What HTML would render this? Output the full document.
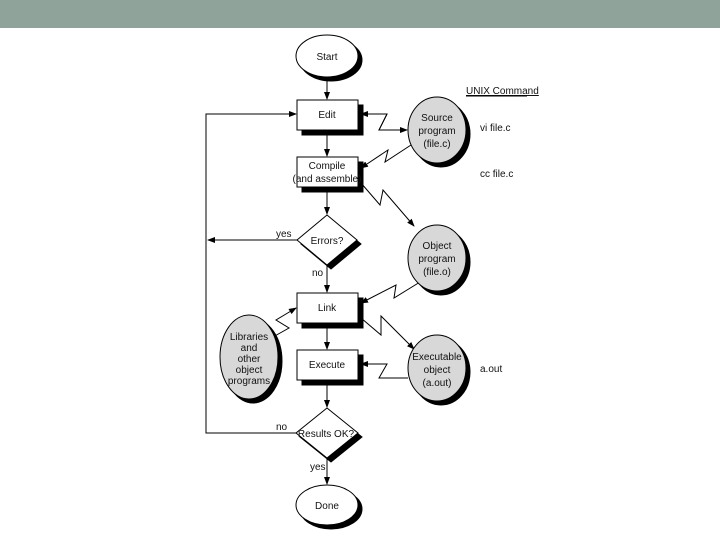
<!DOCTYPE html><html><head><style>body{margin:0;width:720px;height:540px;background:#fff;overflow:hidden}svg text{font-family:"Liberation Sans",sans-serif;font-size:10px;fill:#111}</style></head><body>
<svg width="720" height="540" viewBox="0 0 720 540">
<defs><marker id="a" markerWidth="8" markerHeight="8" refX="7" refY="4" orient="auto" markerUnits="userSpaceOnUse"><path d="M0,1 L8,4 L0,7 z" fill="#000"/></marker></defs>
<rect x="0" y="0" width="720" height="28" fill="#8fa39a"/>
<g stroke="#000" stroke-width="1" fill="none">
<line x1="327" y1="77" x2="327" y2="99" marker-end="url(#a)"/>
<line x1="327" y1="130" x2="327" y2="156" marker-end="url(#a)"/>
<line x1="327" y1="187" x2="327" y2="214" marker-end="url(#a)"/>
<line x1="327" y1="265" x2="327" y2="292" marker-end="url(#a)"/>
<line x1="327" y1="323" x2="327" y2="349" marker-end="url(#a)"/>
<line x1="327" y1="380" x2="327" y2="407" marker-end="url(#a)"/>
<line x1="327" y1="458" x2="327" y2="484" marker-end="url(#a)"/>
<polyline points="296,433 206,433 206,114 296,114" marker-end="url(#a)"/>
<line x1="297" y1="240" x2="208" y2="240" marker-end="url(#a)"/>
<polyline points="407,130 379,130 387,114 361,114" marker-end="url(#a)"/>
<polyline points="387,114 379,130 407,130" marker-end="url(#a)"/>
<polyline points="411,145 385,162 388,150 361,168" marker-end="url(#a)"/>
<polyline points="361,183 380,205 383,190 414,226" marker-end="url(#a)"/>
<polyline points="420,282 394,298 396,285 361,303" marker-end="url(#a)"/>
<polyline points="361,318 381,335 381,316 414,349" marker-end="url(#a)"/>
<polyline points="408,378 379,378 387,364 361,364" marker-end="url(#a)"/>
<polyline points="273,337 289,328 276,320 296,308" marker-end="url(#a)"/>
</g>
<g stroke="#000">
<ellipse cx="331" cy="60" rx="31" ry="21" fill="#000"/><ellipse cx="327" cy="56" rx="31" ry="21" fill="#fff"/>
<ellipse cx="331" cy="509" rx="31" ry="20" fill="#000"/><ellipse cx="327" cy="505" rx="31" ry="20" fill="#fff"/>
<rect x="302" y="105" width="61" height="30" fill="#000"/><rect x="297" y="100" width="61" height="30" fill="#fff"/>
<rect x="302" y="162" width="61" height="30" fill="#000"/><rect x="297" y="157" width="61" height="30" fill="#fff"/>
<rect x="302" y="298" width="61" height="30" fill="#000"/><rect x="297" y="293" width="61" height="30" fill="#fff"/>
<rect x="302" y="355" width="61" height="30" fill="#000"/><rect x="297" y="350" width="61" height="30" fill="#fff"/>
<polygon points="331,219 361,244 331,269 301,244" fill="#000"/><polygon points="327,215 357,240 327,265 297,240" fill="#fff"/>
<polygon points="331,412 362,437 331,462 300,437" fill="#000"/><polygon points="327,408 358,433 327,458 296,433" fill="#fff"/>
<ellipse cx="441" cy="134" rx="29" ry="33" fill="#000"/><ellipse cx="437" cy="130" rx="29" ry="33" fill="#d8d8d8"/>
<ellipse cx="441" cy="262" rx="29" ry="33" fill="#000"/><ellipse cx="437" cy="258" rx="29" ry="33" fill="#d8d8d8"/>
<ellipse cx="441" cy="372" rx="29" ry="33" fill="#000"/><ellipse cx="437" cy="368" rx="29" ry="33" fill="#d8d8d8"/>
<ellipse cx="253" cy="361" rx="29" ry="42" fill="#000"/><ellipse cx="249" cy="357" rx="29" ry="42" fill="#d8d8d8"/>
</g>
<g text-anchor="middle">
<text x="327" y="60">Start</text><text x="327" y="509">Done</text>
<text x="327" y="118">Edit</text>
<text x="327" y="169">Compile</text><text x="327" y="182">(and assemble)</text>
<text x="327" y="244">Errors?</text>
<text x="327" y="311">Link</text><text x="327" y="368">Execute</text>
<text x="326" y="437">Results OK?</text>
<text x="437" y="121">Source</text><text x="437" y="134">program</text><text x="437" y="147">(file.c)</text>
<text x="437" y="249">Object</text><text x="437" y="262">program</text><text x="437" y="275">(file.o)</text>
<text x="437" y="360">Executable</text><text x="437" y="373">object</text><text x="437" y="386">(a.out)</text>
<text x="249" y="340">Libraries</text><text x="249" y="351">and</text><text x="249" y="362">other</text><text x="249" y="373">object</text><text x="249" y="384">programs</text>
</g>
<text x="276" y="237">yes</text><text x="312" y="276">no</text>
<text x="276" y="430">no</text><text x="310" y="470">yes</text>
<text x="466" y="94" text-decoration="underline">UNIX Command</text>
<line x1="466" y1="96" x2="527" y2="96" stroke="#000"/>
<text x="480" y="131">vi file.c</text><text x="480" y="177">cc file.c</text><text x="480" y="372">a.out</text>
</svg></body></html>
